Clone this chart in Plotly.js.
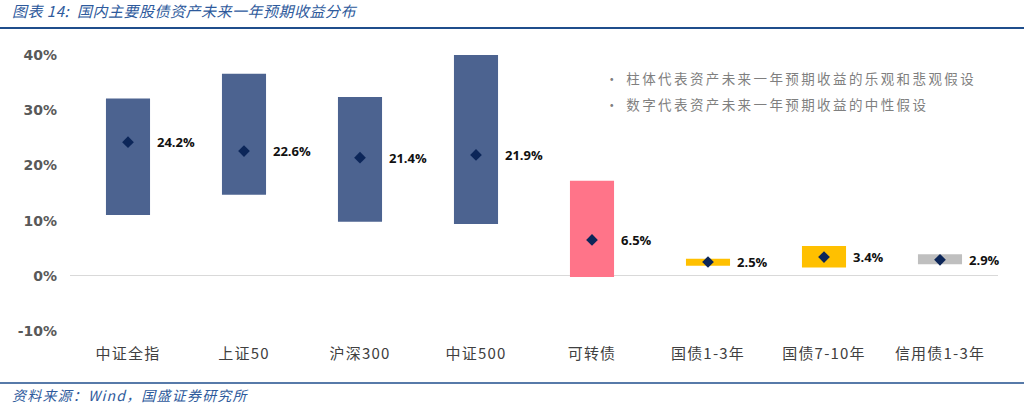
<!DOCTYPE html>
<html>
<head>
<meta charset="utf-8">
<script src="https://cdn.plot.ly/plotly-3.0.1.min.js"></script>
<style>
html,body{margin:0;padding:0;background:#fff;}
#chart{width:1024px;height:406px;}
</style>
</head>
<body>
<div id="chart"></div>
<script>
const categories = ["中证全指","上证50","沪深300","中证500","可转债","国债1-3年","国债7-10年","信用债1-3年"];
const lowValues  = [11.0, 14.7, 9.8, 9.4, -0.2, 1.8, 1.5, 2.1];
const highValues = [32.1, 36.6, 32.4, 40.0, 17.2, 3.1, 5.4, 3.9];
const midValues  = [24.2, 22.6, 21.4, 21.9, 6.5, 2.5, 3.4, 2.9];
const midLabels  = ["24.2%","22.6%","21.4%","21.9%","6.5%","2.5%","3.4%","2.9%"];
const barColors  = ["#4C6390","#4C6390","#4C6390","#4C6390","#FF7489","#FFC000","#FFC000","#BFBFBF"];
const yTickVals  = [-10,0,10,20,30,40];
const yTickText  = ["-10%","0%","10%","20%","30%","40%"];
const noteLines  = ["· 柱体代表资产未来一年预期收益的乐观和悲观假设","· 数字代表资产未来一年预期收益的中性假设"];

const cjk = '"Noto Sans CJK SC", "DejaVu Sans", sans-serif';

const barTrace = {
  type: 'bar',
  x: categories,
  base: lowValues,
  y: highValues.map((h,i)=>h-lowValues[i]),
  marker: {color: barColors},
  width: 0.38,
  hoverinfo: 'skip',
  showlegend: false
};
const midTrace = {
  type: 'scatter',
  mode: 'markers',
  x: categories,
  y: midValues,
  marker: {symbol: 'diamond', size: 9, color: '#0C2659'},
  showlegend: false,
  hoverinfo: 'skip'
};

const annotations = categories.map((c,i)=>({
  x: c, y: midValues[i], xref:'x', yref:'y',
  text: midLabels[i], showarrow:false,
  xanchor:'left', xshift: 27,
  font: {family:'"Open Sans", "DejaVu Sans", sans-serif', size: 13, color:'#111', weight: 700}
}));

noteLines.forEach((t,i)=>{
  annotations.push({
    xref:'paper', yref:'paper', xanchor:'left', yanchor:'middle',
    x: (603-70)/928, y: 1 - ((78 + i*26) - 55)/276,
    text: t, showarrow:false,
    font:{family: cjk, size: 13.5, color:'#7F7F7F'}
  });
});

annotations.push({
  xref:'paper', yref:'paper', xanchor:'left', yanchor:'middle',
  x: -60/928, y: 1 + (55-11)/276,
  text: '<i>图表 14:  国内主要股债资产未来一年预期收益分布</i>', showarrow:false,
  font:{family: cjk, size: 15, color:'#2E5A9C'}
});
annotations.push({
  xref:'paper', yref:'paper', xanchor:'left', yanchor:'middle',
  x: -60/928, y: -(395-331)/276,
  text: '<i>资料来源：Wind，国盛证券研究所</i>', showarrow:false,
  font:{family: cjk, size: 14, color:'#2E5A9C'}
});

const layout = {
  width: 1024, height: 406,
  margin: {l:70, r:26, t:55, b:75},
  paper_bgcolor:'#fff', plot_bgcolor:'#fff',
  font: {family: cjk},
  xaxis: {
    type:'category', showgrid:false, zeroline:false, showline:false,
    ticks:'', tickfont:{family: cjk, size:15, color:'#404040'},
    ticklabelstandoff: 12, range:[-0.5, 7.5]
  },
  yaxis: {
    range:[-10,40], tickvals: yTickVals, ticktext: yTickText,
    showgrid:false, zeroline:true, zerolinecolor:'#D9D9D9', zerolinewidth:1,
    showline:false, ticks:'',
    tickfont:{family:'"DejaVu Sans", sans-serif', size:14, color:'#595959', weight:700},
    ticklabelstandoff: 12
  },
  shapes: [{
    type:'line', xref:'paper', yref:'paper',
    x0: -70/928, x1: 1 + 26/928, y0: 1 + (55-28)/276, y1: 1 + (55-28)/276,
    line:{color:'#1F4E8C', width:2}
  },{
    type:'line', xref:'paper', yref:'paper',
    x0: -70/928, x1: 1 + 26/928, y0: -(383-331)/276, y1: -(383-331)/276,
    line:{color:'#1F4E8C', width:1.5}
  }],
  annotations: annotations
};

function spaceKeepLeft(el, spacing){
  const before = el.getBBox().x;
  el.style.letterSpacing = spacing;
  const after = el.getBBox().x;
  const x0 = parseFloat(el.getAttribute('x') || '0');
  el.setAttribute('x', x0 + (before - after));
  el.querySelectorAll('tspan[x]').forEach(ts=>{
    ts.setAttribute('x', parseFloat(ts.getAttribute('x')) + (before - after));
  });
}

Plotly.newPlot('chart', [barTrace, midTrace], layout, {displayModeBar:false, staticPlot:true}).then(gd=>{
  gd.querySelectorAll('.annotation-text').forEach(el=>{
    const txt = el.textContent;
    if (txt.indexOf('代表') >= 0) spaceKeepLeft(el, '2.4px');
    else if (txt.indexOf('图表') >= 0) spaceKeepLeft(el, '0.5px');
    else if (txt.indexOf('资料') >= 0) spaceKeepLeft(el, '1.2px');
  });
  gd.querySelectorAll('.xtick text').forEach(el=>{ el.style.letterSpacing = '1.2px'; });
});
</script>
</body>
</html>
